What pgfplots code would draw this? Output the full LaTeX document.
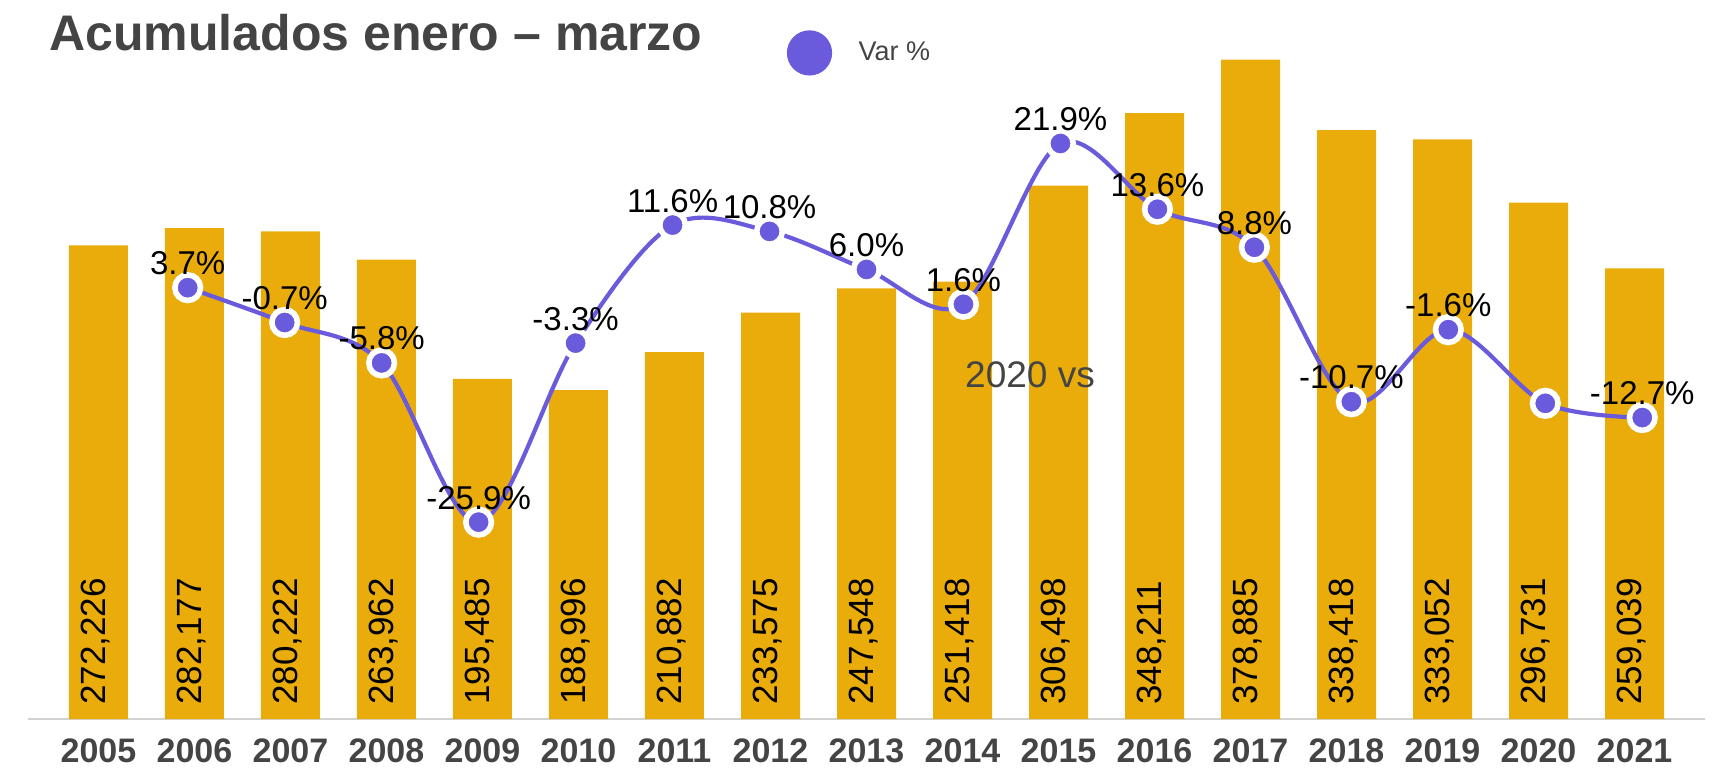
\documentclass[border=0pt]{standalone}
\usepackage{fontspec}
\setmainfont{Liberation Sans}
\usepackage{pgfplots}
\pgfplotsset{compat=1.18}
\usepackage{pgfplotstable}

\definecolor{barc}{RGB}{234,172,11}
\definecolor{linec}{RGB}{106,90,220}
\definecolor{txt}{RGB}{68,68,68}
\definecolor{axl}{RGB}{210,210,210}

\pgfplotstableread{
year val lab
2005 272226 272,226
2006 282177 282,177
2007 280222 280,222
2008 263962 263,962
2009 195485 195,485
2010 188996 188,996
2011 210882 210,882
2012 233575 233,575
2013 247548 247,548
2014 251418 251,418
2015 306498 306,498
2016 348211 348,211
2017 378885 378,885
2018 338418 338,418
2019 333052 333,052
2020 296731 296,731
2021 259039 259,039
}\bars

\pgfplotstableread{
year pct lab
2006 3.7 3.7\%
2007 -0.7 -0.7\%
2008 -5.8 -5.8\%
2009 -25.9 -25.9\%
2010 -3.3 -3.3\%
2011 11.6 11.6\%
2012 10.8 10.8\%
2013 6.0 6.0\%
2014 1.6 1.6\%
2015 21.9 21.9\%
2016 13.6 13.6\%
2017 8.8 8.8\%
2018 -10.7 -10.7\%
2019 -1.6 -1.6\%
2020 -10.9 {}
2021 -12.7 -12.7\%
}\var

\begin{document}
\begin{tikzpicture}
\begin{axis}[
  name=ax1,
  scale only axis, width=838.5pt, height=348pt,
  xmin=2004.266, xmax=2021.734,
  ymin=0, ymax=400000,
  axis x line=bottom, axis y line=none,
  x axis line style={draw=axl, line width=1pt, -},
  xtick={2005,2006,...,2021},
  major tick length=0pt,
  xticklabel style={font=\fontsize{17}{17}\selectfont\bfseries, text=txt, anchor=base, yshift=-21.5pt},
  /pgf/number format/1000 sep={}, /pgf/number format/assume math mode=true,
  clip=false,
]
\addplot[ybar, bar width=29.5pt, fill=barc, draw=none] table[x=year,y=val]{\bars};
\addplot[draw=none, mark=none, nodes near coords, point meta=explicit symbolic,
  every node near coord/.append style={rotate=90, anchor=west, inner xsep=7pt, inner ysep=0pt,
    text height=0.72em, text depth=0pt, font=\fontsize{17.5}{17.5}\selectfont, text=black}]
  table[x=year, y expr=0, meta=lab]{\bars};
\node[anchor=base west, inner sep=0pt, font=\fontsize{25}{25}\selectfont\bfseries, text=txt]
  at (rel axis cs:0.0125,0.9605) {Acumulados enero – marzo};
\node[font=\fontsize{18.5}{18.5}\selectfont, text=txt] at (rel axis cs:0.5975,0.494) {2020 vs};
\end{axis}
\begin{axis}[
  scale only axis, width=838.5pt, height=348pt,
  xmin=2004.353, xmax=2021.647,
  ymin=-50.75, ymax=37.11,
  hide x axis, hide y axis,
  clip=false,
  legend style={at={(0.4523,0.957)}, anchor=west, draw=none, fill=none, inner sep=0pt,
    nodes={inner sep=0pt}, column sep=13.25pt,
    font=\fontsize{13.5}{13.5}\selectfont, text=txt},
  legend image code/.code={\fill[linec] (10.25pt,0pt) circle (10.25pt);},
]
\addplot[linec, line width=2.1pt, smooth, tension=0.55, mark=*, mark size=6.4pt,
  mark options={fill=linec, draw=white, line width=2.8pt},
  nodes near coords, point meta=explicit symbolic,
  every node near coord/.append style={anchor=base, yshift=6.5pt, inner sep=0pt,
    font=\fontsize{16.5}{16.5}\selectfont, text=black}]
  table[x=year,y=pct,meta=lab]{\var};
\legend{Var \%}
\end{axis}
\pgfresetboundingbox
\path ([shift={(-14pt,-24pt)}]ax1.south west) rectangle ([shift={(8pt,11.5pt)}]ax1.north east);
\end{tikzpicture}
\end{document}
